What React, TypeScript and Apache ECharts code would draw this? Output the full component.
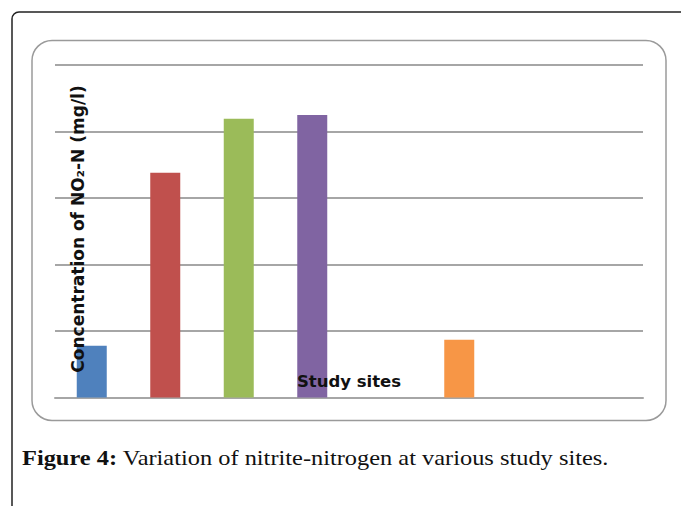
import React, { useEffect, useRef } from "react";
import * as echarts from "echarts";

const categories = ["Site 1", "Site 2", "Site 3", "Site 4", "Site 5", "Site 6", "Site 7", "Site 8"];
const values: (number | null)[] = [0.78, 3.38, 4.19, 4.25, null, 0.87, null, null];
const barColors = ["#4f81bd", "#c0504d", "#9bbb59", "#8064a2", "#4bacc6", "#f79646", "#2c4d75", "#772c2a"];
const yTicks = { min: 0, max: 5, interval: 1 };
const yTitle = "Concentration of NO₂-N (mg/l)";
const xTitle = "Study sites";
const captionBold = "Figure 4:";
const captionText = " Variation of nitrite-nitrogen at various study sites.";

export default function App() {
  const ref = useRef<HTMLDivElement>(null);
  useEffect(() => {
    document.body.style.margin = "0";
    const chart = echarts.init(ref.current!, null, { renderer: "svg" });
    chart.setOption({
      animation: false,
      backgroundColor: "#ffffff",
      grid: { left: 55, right: 38, top: 65, bottom: 108.5 },
      xAxis: {
        type: "category",
        data: categories,
        axisLabel: { show: false },
        axisTick: { show: false },
        axisLine: { lineStyle: { color: "#a6a6a6", width: 2 } },
      },
      yAxis: {
        type: "value",
        min: yTicks.min,
        max: yTicks.max,
        interval: yTicks.interval,
        axisLabel: { show: false },
        axisTick: { show: false },
        axisLine: { show: false },
        splitLine: { lineStyle: { color: "#a6a6a6", width: 2 } },
      },
      series: [
        {
          type: "bar",
          barWidth: 30,
          data: values.map((v, i) => ({ value: v, itemStyle: { color: barColors[i] } })),
        },
      ],
      graphic: [
        {
          type: "rect",
          z: -10,
          silent: true,
          shape: { x: 12, y: 12, width: 720, height: 540, r: [7, 0, 0, 0] },
          style: { fill: "none", stroke: "#222", lineWidth: 1.5 },
        },
        {
          type: "rect",
          z: -5,
          silent: true,
          shape: { x: 32, y: 40.5, width: 634, height: 380, r: 20 },
          style: { fill: "none", stroke: "#9a9a9a", lineWidth: 1.5 },
        },
        {
          type: "text",
          z: 10,
          x: 78,
          y: 229,
          rotation: Math.PI / 2,
          style: {
            text: yTitle,
            font: "bold 17px 'DejaVu Sans', sans-serif",
            fill: "#111",
            align: "center",
            verticalAlign: "middle",
          },
        },
        {
          type: "text",
          z: 10,
          x: 349,
          y: 381,
          style: {
            text: xTitle,
            font: "bold 16.5px 'DejaVu Sans', sans-serif",
            fill: "#111",
            align: "center",
            verticalAlign: "middle",
          },
        },
        {
          type: "text",
          x: 22,
          y: 458,
          scaleX: 1.22,
          style: {
            text: "{b|" + captionBold + "}{n|" + captionText + "}",
            align: "left",
            verticalAlign: "middle",
            rich: {
              b: { font: "bold 20px 'Liberation Serif', serif", fill: "#111" },
              n: { font: "20px 'Liberation Serif', serif", fill: "#111" },
            },
          },
        },
      ],
    });
    return () => chart.dispose();
  }, []);
  return <div ref={ref} style={{ position: "fixed", left: 0, top: 0, width: 681, height: 506 }} />;
}
